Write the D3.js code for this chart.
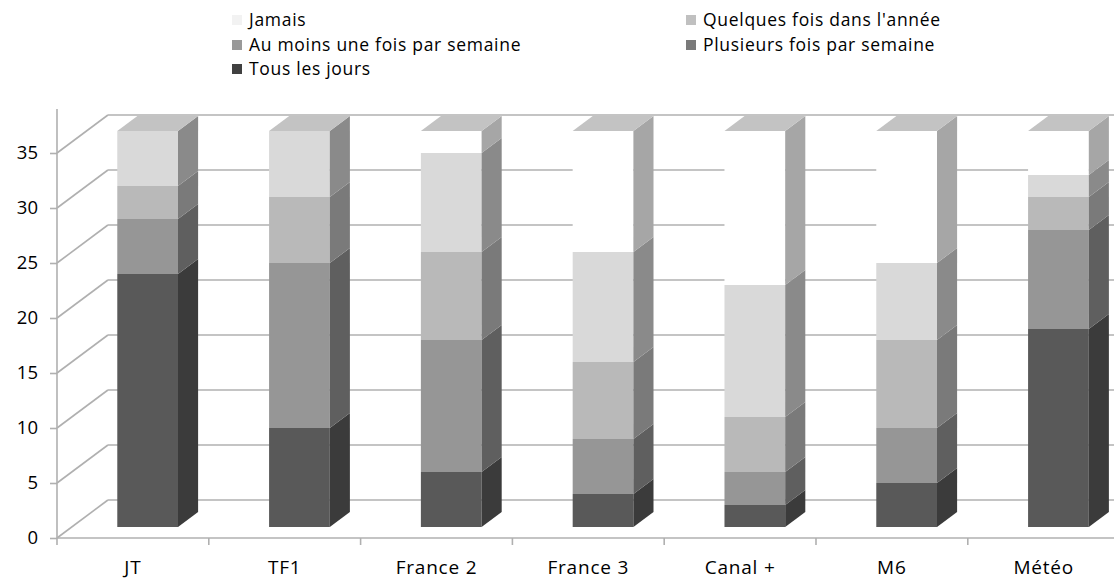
<!DOCTYPE html>
<html>
<head>
<meta charset="utf-8">
<script src="https://cdn.jsdelivr.net/npm/d3@7"></script>
<style>
  body { margin: 0; background: #fff; }
  text { font-family: "Open Sans", Lato, sans-serif; fill: #000; }
</style>
</head>
<body>
<div id="vis"></div>
<script>
// data (36 answers per programme)
const categories = ['JT', 'TF1', 'France 2', 'France 3', 'Canal +', 'M6', 'Météo'];
const seriesNames = ['Tous les jours', 'Plusieurs fois par semaine', 'Au moins une fois par semaine', "Quelques fois dans l'année", 'Jamais'];
const tousLesJours = [23, 9, 5, 3, 2, 4, 18];
const plusieursFois = [5, 15, 12, 5, 3, 5, 9];
const auMoinsUneFois = [3, 6, 8, 7, 5, 8, 3];
const quelquesFois = [5, 6, 9, 10, 12, 7, 2];
const jamais = [0, 0, 2, 11, 14, 12, 4];
const yTicks = [0, 5, 10, 15, 20, 25, 30, 35];

// shading per series: front face, side face, legend swatch
const frontCol = ['#595959', '#969696', '#b9b9b9', '#d9d9d9', '#ffffff'];
const sideCol = ['#3b3b3b', '#5f5f5f', '#7a7a7a', '#8a8a8a', '#a6a6a6'];
const legendCol = ['#404040', '#7a7a7a', '#999999', '#c0c0c0', '#f2f2f2'];
const topCol = '#c3c3c3';

const W = 1114, H = 581;
const svg = d3.select('#vis').append('svg').attr('width', W).attr('height', H);

// scales
const x = d3.scaleBand().domain(categories).range([57, 57 + 7 * 151.8]).paddingInner(0).paddingOuter(0);
const y = d3.scaleLinear().domain([0, 35]).range([538, 153]);
const k = 1.34; // horizontal shift per pixel of depth
const wallDepth = 38, barFront = 11, barDepth = 15;
const shift = (px, py, d) => [px + k * d, py - d];

const grid = svg.append('g').attr('stroke', '#b0b0b0').attr('stroke-width', 1.6).attr('fill', 'none');

// back wall gridlines and left wall diagonals
yTicks.forEach(v => {
  const a = [57, y(v)];
  const b = shift(57, y(v), wallDepth);
  grid.append('line').attr('x1', a[0]).attr('y1', a[1]).attr('x2', b[0]).attr('y2', b[1]);
  grid.append('line').attr('x1', b[0]).attr('y1', b[1]).attr('x2', W + 5).attr('y2', b[1]);
});

// y axis (front edge of the left wall)
const yAxis = d3.axisLeft(y).tickValues(yTicks).tickSize(7).tickPadding(12);
const gy = svg.append('g').attr('transform', 'translate(57,0)').call(yAxis);
gy.select('.domain').remove();
gy.selectAll('.tick line').attr('stroke', '#b0b0b0').attr('stroke-width', 1.6);
gy.selectAll('.tick text').attr('font-size', 18.5).attr('font-family', '"Open Sans", sans-serif').attr('fill', '#000');
svg.append('line').attr('x1', 57).attr('x2', 57).attr('y1', y(0)).attr('y2', 109)
  .attr('stroke', '#b0b0b0').attr('stroke-width', 1.6);

// x axis
svg.append('line').attr('x1', 57).attr('x2', W + 5).attr('y1', y(0)).attr('y2', y(0))
  .attr('stroke', '#b0b0b0').attr('stroke-width', 1.6);
const bounds = categories.map(c => x(c)).concat([x.range()[1]]);
svg.append('g').selectAll('line').data(bounds).join('line')
  .attr('x1', d => d).attr('x2', d => d).attr('y1', y(0)).attr('y2', y(0) + 7)
  .attr('stroke', '#b0b0b0').attr('stroke-width', 1.6);
const xAxis = d3.axisBottom(x).tickSize(0).tickPadding(23);
const gx = svg.append('g').attr('transform', `translate(0,${y(0)})`).call(xAxis);
gx.select('.domain').remove();
gx.selectAll('.tick text').attr('font-size', 19).attr('letter-spacing', 0.8)
  .attr('font-family', '"Open Sans", sans-serif').attr('fill', '#000');

// stacked data
const seriesValues = [tousLesJours, plusieursFois, auMoinsUneFois, quelquesFois, jamais];
const rows = categories.map((c, i) => {
  const r = { cat: c };
  seriesNames.forEach((s, j) => { r[s] = seriesValues[j][i]; });
  return r;
});
const stacked = d3.stack().keys(seriesNames)(rows);

const barW = x.bandwidth() * 0.4;
const bars = svg.append('g');
const pts = p => p.map(q => q.join(',')).join(' ');

categories.forEach((c, i) => {
  const x0 = x(c) + x.bandwidth() * 0.3 + k * barFront;
  const x1 = x0 + barW;
  const g = bars.append('g');
  stacked.forEach((s, j) => {
    const v0 = s[i][0], v1 = s[i][1];
    const yb = y(v0) - barFront, yt = y(v1) - barFront;
    if (v1 > v0) {
      g.append('rect').attr('x', x0).attr('y', yt).attr('width', barW).attr('height', yb - yt)
        .attr('fill', frontCol[j]);
      g.append('polygon').attr('points', pts([[x1, yb], [x1, yt], shift(x1, yt, barDepth), shift(x1, yb, barDepth)]))
        .attr('fill', sideCol[j]);
    }
  });
  // top face of the stack
  const total = stacked[stacked.length - 1][i][1];
  const yt = y(total) - barFront;
  g.append('polygon').attr('points', pts([[x0, yt], [x1, yt], shift(x1, yt, barDepth), shift(x0, yt, barDepth)]))
    .attr('fill', topCol);
});

// legend
const legendOrder = [4, 3, 2, 1, 0];
const legendPos = [[232, 20], [686, 20], [232, 45], [686, 45], [232, 69]];
const lg = svg.append('g');
legendOrder.forEach((j, n) => {
  const [lx, ly] = legendPos[n];
  lg.append('rect').attr('x', lx).attr('y', ly - 5).attr('width', 10).attr('height', 10).attr('fill', legendCol[j]);
  lg.append('text').attr('x', lx + 17).attr('y', ly).attr('dy', '0.35em')
    .attr('font-size', 17.5).attr('letter-spacing', 0.7).text(seriesNames[j]);
});
</script>
</body>
</html>
